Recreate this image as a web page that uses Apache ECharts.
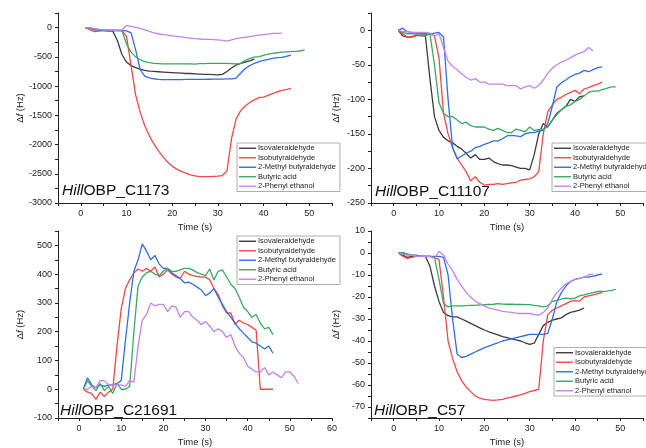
<!DOCTYPE html>
<html>
<head>
<meta charset="utf-8">
<script src="https://cdn.jsdelivr.net/npm/echarts@6/dist/echarts.min.js"></script>
<style>html,body{margin:0;padding:0;background:#fff}#c{width:646px;height:448px}</style>
</head>
<body>
<div id="c"></div>
<script>
const seriesNames = ['Isovaleraldehyde','Isobutyraldehyde','2-Methyl butyraldehyde','Butyric acid','2-Phenyl ethanol'];
const seconds = [1,2,3,4,5,6,7,8,9,10,11,12,13,14,15,16,17,18,19,20,21,22,23,24,25,26,27,28,29,30,31,32,33,34,35,36,37,38,39,40,41,42,43,44,45,46,47,48,49,50,51,52];
const panelTitles = ['C1173','C11107','C21691','C57'];
const xTicks = [0,10,20,30,40,50,60];

// Panel 1: HillOBP_C1173
const c1173_iso = [0,-10,-40,-35,-45,-50,-60,-220,-460,-590,-650,-685,-710,-730,-745,-750,-755,-760,-765,-770,-775,-780,-785,-785,-790,-795,-800,-800,-805,-810,-800,-750,-690,-640,-610,-590,-570,-540];
const c1173_isobut = [0,-40,-70,-60,-50,-50,-45,-50,-50,-150,-650,-1150,-1450,-1680,-1850,-1990,-2110,-2210,-2300,-2370,-2420,-2460,-2490,-2520,-2535,-2550,-2550,-2550,-2545,-2540,-2530,-2450,-1900,-1560,-1420,-1340,-1280,-1235,-1195,-1190,-1160,-1130,-1100,-1075,-1060,-1040];
const c1173_methyl = [0,-10,-30,-40,-50,-60,-50,-50,-50,-55,-90,-380,-720,-830,-860,-875,-885,-890,-890,-890,-888,-888,-887,-886,-885,-885,-884,-883,-882,-880,-880,-878,-876,-865,-780,-700,-650,-610,-580,-560,-545,-525,-515,-510,-490,-470];
const c1173_butyric = [0,-10,-20,-30,-40,-45,-45,-45,-50,-280,-420,-500,-550,-580,-600,-610,-615,-620,-620,-620,-620,-620,-620,-620,-625,-615,-615,-610,-610,-610,-610,-610,-615,-620,-610,-560,-530,-505,-495,-475,-455,-440,-430,-420,-415,-410,-405,-400,-380];
const c1173_phenyl = [0,0,-20,-30,-35,-40,-45,-45,-40,35,20,5,-15,-40,-65,-90,-105,-120,-130,-140,-150,-160,-170,-180,-190,-195,-200,-200,-205,-210,-220,-230,-210,-190,-175,-165,-155,-140,-130,-120,-110,-100,-100,-95];

// Panel 2: HillOBP_C11107
const c11107_iso = [0,-8,-10,-10,-7,-8,-8,-70,-125,-145,-155,-160,-163,-168,-172,-178,-185,-180,-187,-187,-185,-190,-193,-195,-195,-196,-198,-200,-200,-202,-180,-150,-135,-140,-130,-120,-115,-110,-100,-103,-96,-95];
const c11107_isobut = [0,-5,-10,-9,-8,-7,-8,-5,-8,-40,-120,-150,-170,-185,-195,-205,-218,-212,-220,-224,-223,-223,-222,-223,-222,-221,-220,-217,-216,-215,-212,-205,-150,-118,-108,-100,-97,-93,-90,-87,-92,-85,-83,-80,-78,-75];
const c11107_methyl = [0,3,-2,-3,-5,-5,-5,-6,-4,-3,-10,-100,-170,-186,-182,-178,-175,-170,-168,-165,-163,-160,-160,-157,-153,-152,-153,-154,-150,-148,-148,-146,-145,-135,-110,-82,-76,-72,-67,-64,-62,-58,-60,-57,-54,-53];
const c11107_butyric = [0,-3,-5,-5,-5,-5,-6,-5,-50,-105,-120,-125,-125,-130,-135,-133,-138,-140,-140,-140,-143,-145,-142,-145,-148,-148,-143,-145,-147,-140,-145,-144,-143,-140,-130,-122,-115,-110,-108,-103,-100,-95,-90,-88,-88,-86,-84,-82,-82];
const c11107_phenyl = [0,-2,-2,-3,-3,-3,-3,-4,-8,-5,-25,-45,-52,-57,-63,-68,-72,-70,-75,-75,-78,-78,-78,-78,-80,-80,-80,-85,-82,-80,-84,-80,-72,-62,-55,-50,-46,-43,-40,-36,-33,-31,-25,-30];

// Panel 3: HillOBP_C21691
const c21691_iso = [];
const c21691_isobut = [0,-10,-15,-35,-10,-25,-10,0,150,280,350,380,405,418,410,420,410,425,390,400,415,400,390,385,410,400,395,392,390,390,380,350,330,290,265,265,225,240,230,225,215,205,0,0,0,0];
const c21691_methyl = [0,40,15,5,15,10,15,15,20,30,170,300,410,450,505,480,450,465,435,420,420,405,395,385,370,372,365,355,345,325,335,350,320,295,270,250,230,210,195,180,165,160,150,140,150,125];
const c21691_butyric = [0,30,10,-5,20,-5,10,-15,20,0,0,10,200,360,390,405,410,400,395,410,420,410,410,415,420,420,415,405,400,395,418,380,410,415,390,365,350,320,285,270,250,260,230,210,215,190];
const c21691_phenyl = [0,0,10,5,30,30,15,15,15,15,10,30,25,150,240,260,300,290,295,295,270,290,285,250,270,270,250,240,225,235,220,200,210,200,180,190,150,125,110,80,70,60,60,75,50,60,50,40,60,60,45,20];

// Panel 4: HillOBP_C57
const c57_iso = [0,-1,-2,-1.5,-1.5,-1.5,-1.5,-6,-15,-22,-27,-28.5,-29,-29,-30,-31,-32,-33,-34,-35,-35.8,-36.5,-37.2,-38,-38.5,-39,-39.5,-40,-40.8,-41.5,-41,-37,-33,-31.5,-30.5,-30,-29.5,-28,-27,-26.5,-26,-25];
const c57_isobut = [0,-1.5,-2.5,-2,-1.5,-1.5,-1.5,-1.5,-2,-3,-20,-40,-48,-54,-58,-61,-63,-65,-66,-66.5,-66.8,-67,-66.8,-66.5,-66,-65.5,-65,-64.5,-63.8,-63,-62.5,-62,-40,-28,-26,-25,-24,-23,-22,-21.5,-22,-20,-19.5,-19,-18.5,-18];
const c57_methyl = [0,0.2,-0.5,-1,-1,-1.5,-1.5,-1.5,-1.5,-1.5,-2,-10,-30,-46,-47.5,-47,-46,-45,-44,-43,-42.3,-41.5,-40.8,-40,-39.5,-39,-38.5,-38,-37.5,-37,-37,-37,-37,-36.5,-30,-22,-18,-15,-13,-12,-11.5,-11,-11,-10.5,-10,-9.5];
const c57_butyric = [0,0,-0.5,-1,-1.5,-1.5,-1.5,-1.5,-2,-12,-23,-24.5,-24,-24,-24,-23.9,-23.8,-23.8,-23.6,-23.5,-23.4,-23.3,-23,-23.2,-23.3,-23.3,-23.4,-23.4,-23.5,-23.5,-23.8,-24,-24.5,-24,-22,-21.5,-21,-20.5,-20.8,-20.5,-19.5,-19,-18.5,-18,-17.5,-17.5,-17.3,-17,-16.5];
const c57_phenyl = [0,-0.5,-1,-1,-1.5,-1.5,-1.5,-1.5,-2.5,0.8,-1,-5,-8,-12,-15,-18,-20,-22,-23,-24,-25,-25.5,-26,-26.5,-26.8,-27,-27.3,-27.5,-27.5,-27.5,-28,-28.3,-27,-25,-21,-18,-16,-14,-13,-12,-11.5,-11,-10,-9.5];

const panelData = [
  [c1173_iso,c1173_isobut,c1173_methyl,c1173_butyric,c1173_phenyl],
  [c11107_iso,c11107_isobut,c11107_methyl,c11107_butyric,c11107_phenyl],
  [c21691_iso,c21691_isobut,c21691_methyl,c21691_butyric,c21691_phenyl],
  [c57_iso,c57_isobut,c57_methyl,c57_butyric,c57_phenyl]
];

const colors = ['#3d3d3d','#f04848','#2f6fdf','#3aa862','#c283f0'];
const FONT = 'Liberation Sans, Arial, sans-serif';

const grids = [
  {left:58, top:13, width:274, height:190},
  {left:371, top:13, width:274, height:190},
  {left:58, top:231, width:274, height:190.5},
  {left:371, top:231, width:274, height:190.5}
];
const xRanges = [[-5,55],[-5,55],[-5,60],[-5,55]];
const yRanges = [[-3000,250,250,500],[-250,25,25,50],[-100,550,50,100],[-75,10,5,10]];
const yNameGaps = [33,30,33,30];
const legendPos = [[237,143],[552,143],[237,236],[554,347.5]];
const titlePos = [[62,183],[375,184],[60,403],[374,403]];

const axisLineStyle = {lineStyle:{color:'#222',width:1}};
const option = {
  animation:false,
  backgroundColor:'#fff',
  textStyle:{fontFamily:FONT},
  grid: grids.map(g=>Object.assign({containLabel:false},g)),
  xAxis: xRanges.map((r,i)=>({
    type:'value', gridIndex:i, min:r[0], max:r[1], interval:5,
    name:'Time (s)', nameLocation:'middle', nameGap:19,
    nameTextStyle:{fontSize:9.5,color:'#222',fontFamily:FONT},
    axisLine:Object.assign({show:true,onZero:false},axisLineStyle),
    axisTick:{show:true,inside:false,length:3,lineStyle:{color:'#222'}},
    splitLine:{show:false},
    axisLabel:{fontSize:9,color:'#222',margin:6,fontFamily:FONT,
      formatter:v=> xTicks.indexOf(v)>=0 ? String(v) : ''}
  })),
  yAxis: yRanges.map((r,i)=>({
    type:'value', gridIndex:i, min:r[0], max:r[1], interval:r[2],
    name:'{d|Δ}{i|f}{d| (Hz)}', nameLocation:'middle', nameGap:yNameGaps[i], nameRotate:90,
    nameTextStyle:{rich:{d:{fontSize:9.5,color:'#222',fontFamily:FONT},i:{fontSize:9.5,color:'#222',fontStyle:'italic',fontFamily:FONT}}},
    axisLine:Object.assign({show:true,onZero:false},axisLineStyle),
    axisTick:{show:true,inside:false,length:3,lineStyle:{color:'#222'}},
    splitLine:{show:false},
    axisLabel:{fontSize:9,color:'#222',margin:6,fontFamily:FONT,
      formatter:v=> (Math.round(v) % r[3] === 0 && v <= r[1]) ? String(v) : ''}
  })),
  title: panelTitles.map((t,i)=>({
    text:'{i|Hill}{n|OBP_' + t + '}', left:titlePos[i][0], top:titlePos[i][1], padding:0,
    textStyle:{fontWeight:'normal',rich:{i:{fontSize:15.5,fontStyle:'italic',fontWeight:'normal',color:'#111',fontFamily:FONT},n:{fontSize:15.5,fontWeight:'normal',color:'#111',fontFamily:FONT}}}
  })),
  legend: legendPos.map((p,i)=>({
    orient:'vertical', left:p[0], top:p[1], data:seriesNames,
    icon:'rect', itemWidth:17, itemHeight:1.4, itemGap:0,
    padding:[0.5,4,0.5,2], borderColor:'#999', borderWidth:0.8, backgroundColor:'#fff',
    textStyle:{fontSize:7.5,color:'#222',lineHeight:9.5,padding:[0,0,0,-3],fontFamily:FONT},
    selectedMode:false, z:10
  })),
  series: []
};
panelData.forEach((arr,pi)=>{
  arr.forEach((vals,si)=>{
    option.series.push({
      type:'line', name:seriesNames[si], xAxisIndex:pi, yAxisIndex:pi,
      data: vals.map((v,k)=>[seconds[k],v]),
      showSymbol:false, symbol:'none', smooth:false,
      lineStyle:{color:colors[si],width:1.3}, itemStyle:{color:colors[si]},
      z:2
    });
  });
});
const chart = echarts.init(document.getElementById('c'),null,{renderer:'canvas'});
chart.setOption(option);
</script>
</body>
</html>
